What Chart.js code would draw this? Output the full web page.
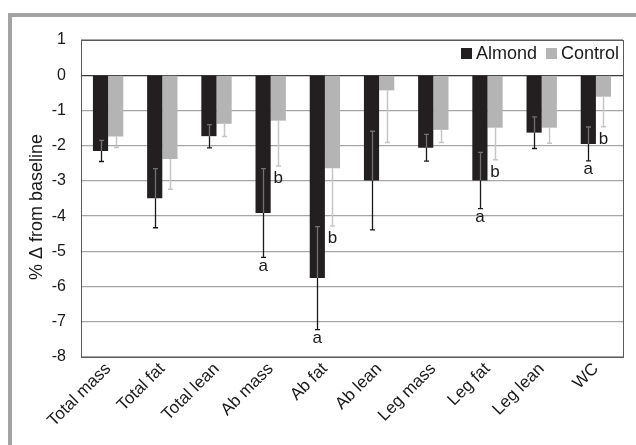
<!DOCTYPE html>
<html lang="en">
<head>
  <meta charset="UTF-8" />
  <title>% change from baseline</title>
  <script src="https://cdn.jsdelivr.net/npm/chart.js"></script>
  <style>
    html, body { margin: 0; padding: 0; background: #fff; }
    .wrap { position: relative; width: 636px; height: 445px; overflow: hidden; }
    .frame { position: absolute; left: 8px; top: 13px; width: 700px; height: 500px; border: 4px solid #a3a3a3; }
    canvas { position: absolute; left: 0; top: 0; }
  </style>
</head>
<body>
  <div class="wrap">
    <div class="frame"></div>
    <canvas id="chart" width="636" height="445"></canvas>
  </div>

  <script>
    const categories = ["Total mass", "Total fat", "Total lean", "Ab mass", "Ab fat", "Ab lean", "Leg mass", "Leg fat", "Leg lean", "WC"];
    const almond     = [-2.15, -3.49, -1.73, -3.91, -5.76, -2.99, -2.06, -2.99, -1.63, -1.95];
    const almondErr  = [0.30, 0.84, 0.33, 1.26, 1.46, 1.40, 0.38, 0.80, 0.45, 0.48];
    const control    = [-1.74, -2.38, -1.38, -1.29, -2.64, -0.43, -1.55, -1.49, -1.49, -0.61];
    const controlErr = [0.31, 0.86, 0.36, 1.29, 1.64, 1.48, 0.36, 0.91, 0.44, 0.85];
    const almondSig  = ["", "", "", "a", "a", "", "", "a", "", "a"];
    const controlSig = ["", "", "", "b", "b", "", "", "b", "", "b"];
    const yMin = -8, yMax = 1, yStep = 1;

    const FONT = '"Liberation Sans", Arial, sans-serif';
    const TEXT = '#1a1a1a';

    // error bars + a/b letters, drawn from the bar elements and y scale
    const errorBars = {
      id: 'errorBars',
      afterDatasetsDraw(chart) {
        const ctx = chart.ctx;
        const y = chart.scales.y;
        const sets = [
          { vals: almond, errs: almondErr, sig: almondSig, inner: '#707070', outer: '#1a1a1a', lw: 1.3, off: 13.5, up: true },
          { vals: control, errs: controlErr, sig: controlSig, inner: '#bdbdbd', outer: '#c6c6c6', lw: 1.5, off: 17, up: false }
        ];
        ctx.save();
        sets.forEach((s, i) => {
          chart.getDatasetMeta(i).data.forEach((bar, j) => {
            const x = Math.round(bar.x) + 0.5;
            const yV = y.getPixelForValue(s.vals[j]);
            const yHi = y.getPixelForValue(s.vals[j] + s.errs[j]);
            const yLo = y.getPixelForValue(s.vals[j] - s.errs[j]);
            ctx.lineWidth = s.lw;
            if (s.up) {
              ctx.strokeStyle = s.inner;
              ctx.beginPath();
              ctx.moveTo(x, yHi); ctx.lineTo(x, yV);
              ctx.moveTo(x - 2.5, yHi); ctx.lineTo(x + 2.5, yHi);
              ctx.stroke();
            }
            ctx.strokeStyle = s.outer;
            ctx.beginPath();
            ctx.moveTo(x, yV); ctx.lineTo(x, yLo);
            ctx.moveTo(x - 2.5, yLo); ctx.lineTo(x + 2.5, yLo);
            ctx.stroke();
            if (s.sig[j]) {
              ctx.fillStyle = TEXT;
              ctx.font = '17px ' + FONT;
              ctx.textAlign = 'center';
              ctx.textBaseline = 'alphabetic';
              ctx.fillText(s.sig[j], bar.x, yLo + s.off);
            }
          });
        });
        ctx.restore();
      },
      afterDraw(chart) {
        const ctx = chart.ctx;
        const a = chart.chartArea;
        ctx.save();
        // plot frame
        ctx.strokeStyle = '#5a5a5a';
        ctx.lineWidth = 1;
        ctx.strokeRect(Math.round(a.left) + 0.5, Math.round(a.top) + 0.5, Math.round(a.right - a.left), Math.round(a.bottom - a.top));

        // legend inside the top-right of the plot
        ctx.font = '18px ' + FONT;
        ctx.textBaseline = 'alphabetic';
        ctx.textAlign = 'left';
        let lx = 461;
        chart.data.datasets.forEach(ds => {
          ctx.fillStyle = ds.backgroundColor;
          ctx.fillRect(lx, 48, 11, 11);
          ctx.fillStyle = TEXT;
          ctx.fillText(ds.label, lx + 15, 58.5);
          lx += 15 + ctx.measureText(ds.label).width + 9;
        });

        // y title
        ctx.translate(37, 207);
        ctx.rotate(-Math.PI / 2);
        ctx.textAlign = 'center';
        ctx.textBaseline = 'middle';
        ctx.font = '18px ' + FONT;
        ctx.fillText('% \u0394 from baseline', 0, 0);
        ctx.restore();
      }
    };

    new Chart(document.getElementById('chart'), {
      type: 'bar',
      data: {
        labels: categories,
        datasets: [
          { label: 'Almond', data: almond, backgroundColor: '#231f20', barPercentage: 1, categoryPercentage: 0.56 },
          { label: 'Control', data: control, backgroundColor: '#b4b4b4', barPercentage: 1, categoryPercentage: 0.56 }
        ]
      },
      options: {
        responsive: false,
        animation: false,
        layout: { padding: { top: 40, right: 13, left: 0, bottom: 0 } },
        plugins: { legend: { display: false }, tooltip: { enabled: false } },
        scales: {
          x: {
            grid: { display: false, drawTicks: false },
            border: { display: false },
            ticks: { color: TEXT, font: { family: FONT, size: 17 }, maxRotation: 45, minRotation: 45, padding: 2 },
            afterFit(scale) { scale.height = 88; }
          },
          y: {
            min: yMin,
            max: yMax,
            grid: {
              drawTicks: false,
              color: c => c.tick.value === 0 ? '#3c3c3c' : '#a6a6a6',
              lineWidth: 1.3
            },
            border: { display: false },
            ticks: { stepSize: yStep, color: TEXT, font: { family: FONT, size: 16 }, padding: 15 },
            afterFit(scale) { scale.width = 81; }
          }
        }
      },
      plugins: [errorBars]
    });
  </script>
</body>
</html>
